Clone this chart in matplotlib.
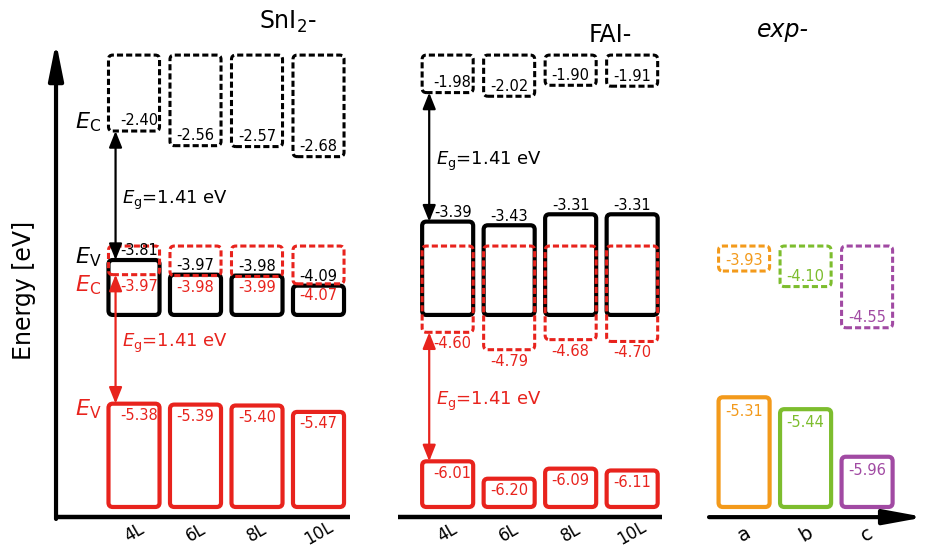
import matplotlib
matplotlib.use("Agg")
import matplotlib.pyplot as plt
from matplotlib.patches import FancyBboxPatch

# ---- data: band edges (eV) ----
sni2_labels = ["4L", "6L", "8L", "10L"]
sni2_black_cb = [-2.40, -2.56, -2.57, -2.68]
sni2_black_vb = [-3.81, -3.97, -3.98, -4.09]
sni2_red_cb = [-3.97, -3.98, -3.99, -4.07]
sni2_red_vb = [-5.38, -5.39, -5.40, -5.47]

fai_labels = ["4L", "6L", "8L", "10L"]
fai_black_cb = [-1.98, -2.02, -1.90, -1.91]
fai_black_vb = [-3.39, -3.43, -3.31, -3.31]
fai_red_cb = [-4.60, -4.79, -4.68, -4.70]
fai_red_vb = [-6.01, -6.20, -6.09, -6.11]

exp_labels = ["a", "b", "c"]
exp_cb = [-3.93, -4.10, -4.55]
exp_vb = [-5.31, -5.44, -5.96]

band_gap = 1.41

# ---- layout / style ----
sni2_x = [0, 1, 2, 3]
fai_x = [5.1, 6.1, 7.1, 8.1]
exp_x = [9.92, 10.92, 11.92]
BOX_W = 0.83
TOP_BLACK = -1.57   # upper edge of the upper CB boxes
BOT_BLACK = -4.41   # lower edge of the upper VB boxes
TOP_RED = -3.657    # upper edge of the lower CB boxes
BOT_RED = -6.509    # lower edge of the lower VB boxes
AXIS_Y = -6.62

RED = "#e8231d"
exp_colors = ["#f39a1b", "#7dbd2e", "#a14aa3"]
DASH = (0, (2.0, 1.0))

plt.rcParams["font.family"] = ["DejaVu Sans"]
plt.rcParams["mathtext.fontset"] = "dejavusans"

fig = plt.figure(figsize=(9.26, 5.52), dpi=100)
ax = fig.add_axes([0, 0, 1, 1])
ax.set_xlim(-2.179, 12.878)
ax.set_ylim(-7.001, -0.968)
ax.axis("off")


def box(x, lo, hi, color, dashed, z):
    p = FancyBboxPatch((x - BOX_W / 2, lo), BOX_W, hi - lo,
                       boxstyle="round,pad=0,rounding_size=0.07",
                       mutation_aspect=0.67, fill=False,
                       edgecolor=color, lw=2.2 if dashed else 3.0,
                       linestyle=DASH if dashed else "-", zorder=z)
    ax.add_patch(p)


def value(x, y, v, color):
    ax.text(x, y, f"{v:.2f}", color=color, fontsize=10.5,
            ha="center", va="center", zorder=6)


def gap_arrow(x, top, bottom, color):
    ax.annotate("", xy=(x, bottom), xytext=(x, top),
                arrowprops=dict(arrowstyle="<|-|>,head_length=0.7,head_width=0.28",
                                color=color, lw=1.6, mutation_scale=14,
                                shrinkA=0, shrinkB=0), zorder=5)
    ax.text(x + 0.11, (top + bottom) / 2 - 0.05,
            f"$E_\\mathrm{{g}}$={band_gap:.2f} eV", color=color,
            fontsize=13, ha="left", va="center")


# SnI2 and FAI terminated slabs
for xs, bcb, bvb, rcb, rvb in [
        (sni2_x, sni2_black_cb, sni2_black_vb, sni2_red_cb, sni2_red_vb),
        (fai_x, fai_black_cb, fai_black_vb, fai_red_cb, fai_red_vb)]:
    for i, (x, c1, v1, c2, v2) in enumerate(zip(xs, bcb, bvb, rcb, rvb)):
        box(x, c1, TOP_BLACK, "black", True, 2)
        box(x, BOT_BLACK, v1, "black", False, 2)
        box(x, c2, TOP_RED, RED, True, 3)
        box(x, BOT_RED, v2, RED, False, 3)
        tx = x + (0.08 if i == 0 else 0.0)   # keep clear of the gap arrow
        value(tx, c1 + 0.11, c1, "black")
        value(tx, v1 + 0.1, v1, "black")
        value(tx, c2 - 0.125, c2, RED)
        value(tx, v2 - 0.13, v2, RED)
    gap_arrow(xs[0] - 0.3, bcb[0], bvb[0], "black")
    gap_arrow(xs[0] - 0.3, rcb[0], rvb[0], RED)

# experimental references
for x, c, v, col in zip(exp_x, exp_cb, exp_vb, exp_colors):
    box(x, c, TOP_RED, col, True, 3)
    box(x, BOT_RED, v, col, False, 3)
    value(x, c + 0.11, c, col)
    value(x, v - 0.15, v, col)

# band-edge labels
ax.text(-0.96, sni2_black_cb[0] + 0.1, r"$E_\mathrm{C}$", fontsize=16, ha="left", va="center")
ax.text(-0.96, sni2_black_vb[0] + 0.03, r"$E_\mathrm{V}$", fontsize=16, ha="left", va="center")
ax.text(-0.96, sni2_red_cb[0] - 0.11, r"$E_\mathrm{C}$", fontsize=16, ha="left", va="center", color=RED)
ax.text(-0.96, sni2_red_vb[0] - 0.06, r"$E_\mathrm{V}$", fontsize=16, ha="left", va="center", color=RED)

# group titles
ax.text(2.504, -1.209, r"SnI$_2$-", fontsize=17, ha="center", va="center")
ax.text(7.74, -1.351, "FAI-", fontsize=17, ha="center", va="center")
ax.text(10.55, -1.296, "exp-", fontsize=17, ha="center", va="center", style="italic")

# energy axis
ax.annotate("", xy=(-1.268, -1.427), xytext=(-1.268, AXIS_Y - 0.02),
            arrowprops=dict(arrowstyle="-|>,head_length=1.1,head_width=0.22",
                            color="black", lw=3, mutation_scale=20,
                            shrinkA=0, shrinkB=0))
ax.text(-1.789, -4.138, "Energy [eV]", fontsize=17, rotation=90,
        ha="center", va="center")

# baseline segments
ax.plot([-1.3, 3.512], [AXIS_Y, AXIS_Y], color="black", lw=3.2, solid_capstyle="butt")
ax.plot([4.293, 8.585], [AXIS_Y, AXIS_Y], color="black", lw=3.2, solid_capstyle="butt")
ax.annotate("", xy=(12.86, AXIS_Y), xytext=(9.35, AXIS_Y),
            arrowprops=dict(arrowstyle="-|>,head_length=1.2,head_width=0.22",
                            color="black", lw=3, mutation_scale=20,
                            shrinkA=0, shrinkB=0))

# category labels
for x, lab in zip(sni2_x, sni2_labels):
    ax.text(x, -6.79, lab, fontsize=12, rotation=30, ha="center", va="center")
for x, lab in zip(fai_x, fai_labels):
    ax.text(x, -6.79, lab, fontsize=12, rotation=30, ha="center", va="center")
for x, lab in zip(exp_x, exp_labels):
    ax.text(x, -6.81, lab, fontsize=14, rotation=30, ha="center", va="center")

fig.savefig("out.png", dpi=100)
